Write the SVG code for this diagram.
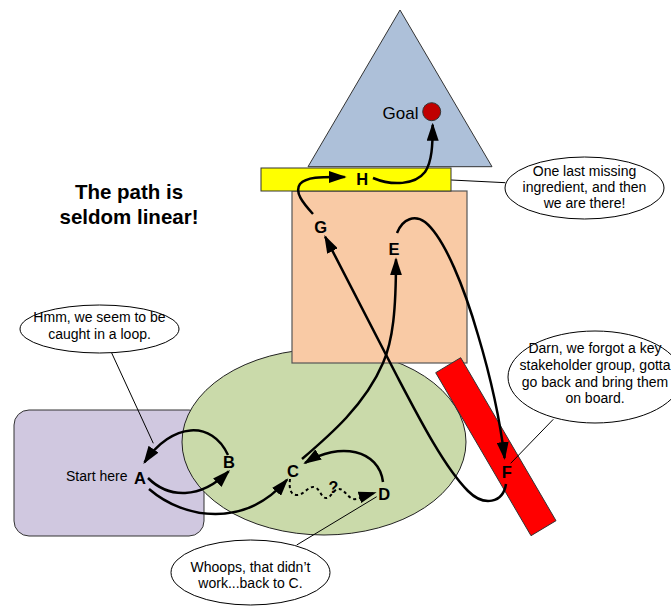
<svg xmlns="http://www.w3.org/2000/svg" width="671" height="606" viewBox="0 0 671 606">
<style>
  text { font-family: "Liberation Sans", Arial, sans-serif; fill: #000; }
  .lbl { font-size: 16.5px; font-weight: bold; text-anchor: middle; }
  .call { font-size: 14px; text-anchor: middle; }
  .bubble { fill: #fff; stroke: #000; stroke-width: 1; }
  .lead { stroke: #000; stroke-width: 1; fill: none; }
  .conn { stroke: #000; stroke-width: 2.5; fill: none; marker-end: url(#ah); }
  .dash { stroke: #000; stroke-width: 2; fill: none; stroke-dasharray: 3 3; marker-end: url(#ah); }
</style>
<defs>
  <marker id="ah" viewBox="0 0 18 12" refX="16" refY="6" markerWidth="18" markerHeight="12" markerUnits="userSpaceOnUse" orient="auto">
    <path d="M0,0 L18,6 L0,12 z" fill="#000"/>
  </marker>
</defs>
<rect width="671" height="606" fill="#fff"/>

<g id="start-box">
  <rect x="14" y="410" width="190" height="126" rx="15" ry="15" fill="#d0c8e0" stroke="#333" stroke-width="1"/>
</g>
<g id="green-ellipse">
  <ellipse cx="324" cy="442" rx="142" ry="93" fill="#cadaaa" stroke="#222" stroke-width="1"/>
</g>
<g id="peach-box">
  <rect x="292" y="191" width="175" height="172" fill="#f9caa5" stroke="#555" stroke-width="1.2"/>
</g>
<g id="goal-triangle">
  <polygon points="400,10 492,166.7 308,166.7" fill="#adc0d9" stroke="#333" stroke-width="1"/>
  <circle cx="431.7" cy="111.7" r="9" fill="#c00000" stroke="#333" stroke-width="1"/>
  <text x="418.5" y="119" font-size="17" text-anchor="end">Goal</text>
</g>
<g id="yellow-bar">
  <rect x="261" y="168" width="190" height="23" fill="#ffff00" stroke="#333" stroke-width="1"/>
</g>
<g id="red-bar">
  <polygon points="435.7,372.7 460.7,357.7 556,520.7 531,535.7" fill="#ff0000" stroke="#333" stroke-width="1"/>
</g>

<g id="title">
  <text x="129" y="199" font-size="20.5" font-weight="bold" text-anchor="middle">The path is</text>
  <text x="129" y="224" font-size="20.5" font-weight="bold" text-anchor="middle">seldom linear!</text>
</g>

<g id="callout-last">
  <line class="lead" x1="451.3" y1="180" x2="505.3" y2="182.7"/>
  <ellipse class="bubble" cx="584.5" cy="188" rx="79.5" ry="31"/>
  <text class="call" x="584.5" y="176">One last missing</text>
  <text class="call" x="584.5" y="192">ingredient, and then</text>
  <text class="call" x="584.5" y="208">we are there!</text>
</g>
<g id="callout-loop">
  <line class="lead" x1="111.7" y1="353" x2="153.3" y2="443.3"/>
  <ellipse class="bubble" cx="99.5" cy="329" rx="79.5" ry="24"/>
  <text class="call" x="99.5" y="321.5">Hmm, we seem to be</text>
  <text class="call" x="99.5" y="338.5">caught in a loop.</text>
</g>
<g id="callout-darn">
  <line class="lead" x1="553.3" y1="419.3" x2="510.7" y2="463.3"/>
  <ellipse class="bubble" cx="595" cy="377" rx="87" ry="46"/>
  <text class="call" x="595" y="353.3">Darn, we forgot a key</text>
  <text class="call" x="595" y="370">stakeholder group, gotta</text>
  <text class="call" x="595" y="387">go back and bring them</text>
  <text class="call" x="595" y="403">on board.</text>
</g>
<g id="callout-whoops">
  <line class="lead" x1="296.7" y1="545" x2="376.7" y2="496.7"/>
  <ellipse class="bubble" cx="250.5" cy="572.5" rx="79.5" ry="32.5"/>
  <text class="call" x="250.5" y="571.5">Whoops, that didn’t</text>
  <text class="call" x="250.5" y="588">work...back to C.</text>
</g>

<g id="connectors">
  <path class="conn" d="M148,478 C168,498 200,500 228.6,471.4"/>
  <path class="conn" d="M228,455 C212,420 172,422 144.5,462.4"/>
  <path class="conn" d="M149,489 C185,520 245,528 287,479.8"/>
  <path class="conn" d="M383,482 C379,450 340,441 305,463"/>
  <path class="dash" d="M290,479 C289,488 290,495 297,495 C304,495 308,486 314,487 C320,488 321,498 326,498 C331,498 333,490 338,489 C344,488 347,497 353,499 C358,500 364,496 374.7,492.8"/>
  <path class="conn" d="M302,459 C330,435 365,405 383,363 C393,340 396,310 396,259.3"/>
  <path class="conn" d="M397,233 C403,218 415,215 425,222 C445,238 465,290 478,335 C490,375 500,420 504.6,458"/>
  <path class="conn" d="M506,484 C503,503 484,507 468,491 C445,468 420,420 398,378 L325.2,236.8"/>
  <path class="conn" d="M313,214 C303,203 294,192 300,184 C307,176 325,177 344.7,177"/>
  <path class="conn" d="M373,178 C392,186 415,185 425,172 C432,162 432.7,145 432.7,124.7"/>
</g>

<g id="node-A">
  <text x="127.5" y="481" font-size="14" text-anchor="end">Start here</text>
  <text class="lbl" x="140" y="483.7">A</text>
</g>
<g id="node-B"><text class="lbl" x="229" y="467.5">B</text></g>
<g id="node-C"><text class="lbl" x="293" y="477.2">C</text></g>
<g id="node-D"><text class="lbl" x="384.3" y="499.7">D</text></g>
<g id="node-E"><text class="lbl" x="394" y="255">E</text></g>
<g id="node-F"><text class="lbl" x="506.7" y="478">F</text></g>
<g id="node-G"><text class="lbl" x="320.7" y="233">G</text></g>
<g id="node-H"><text class="lbl" x="362.3" y="184.7">H</text></g>
<g id="question"><text x="333.3" y="492.5" font-size="16" font-weight="bold" text-anchor="middle">?</text></g>
</svg>
